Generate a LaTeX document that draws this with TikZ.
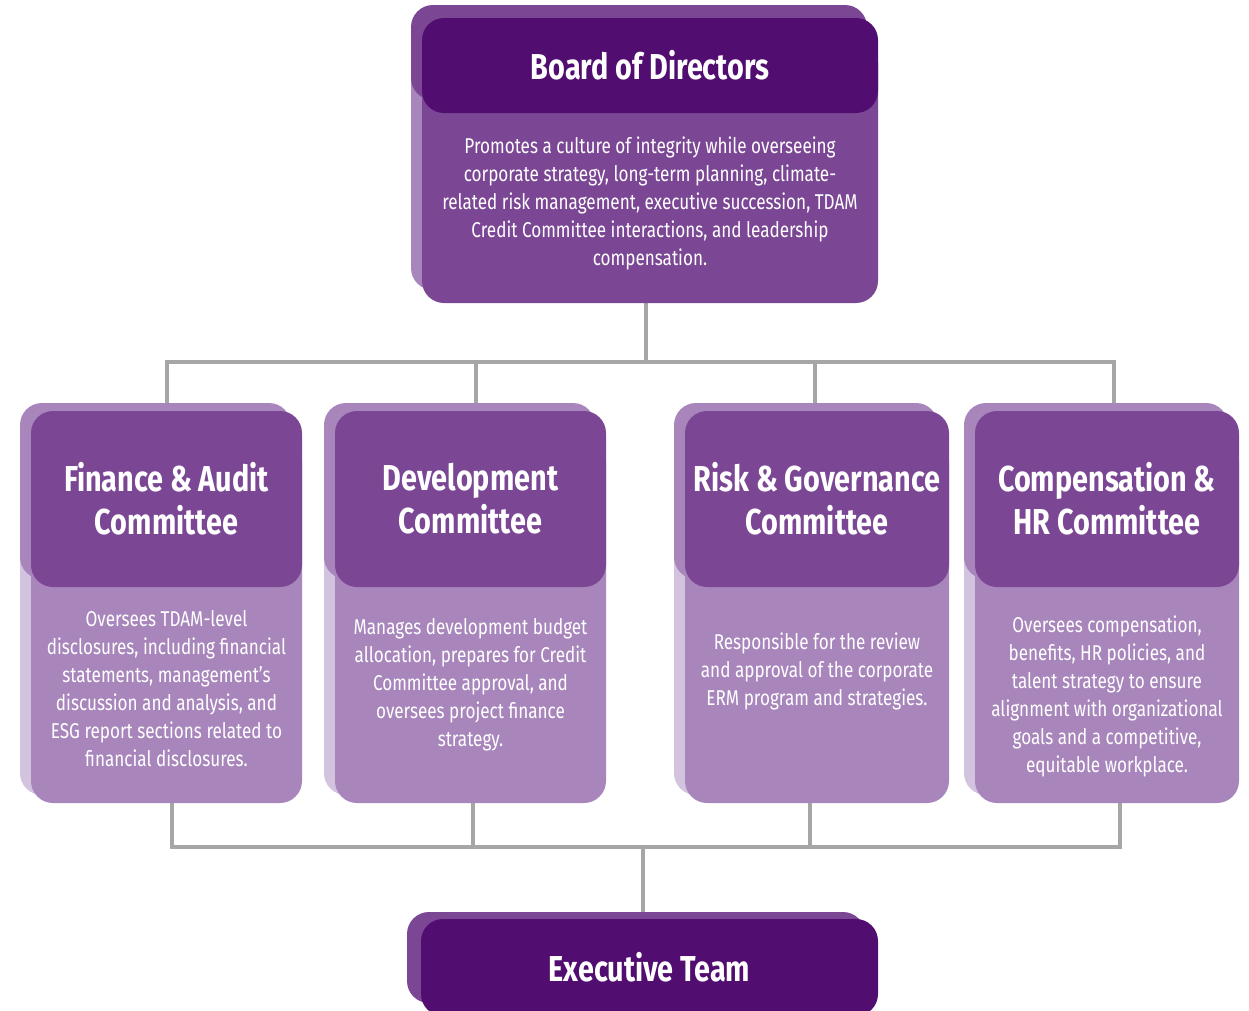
\documentclass[tikz,border=0pt]{standalone}
\usepackage{fontspec}
\setmainfont{Fira Sans}[FakeStretch=0.8]
\usetikzlibrary{backgrounds}

\definecolor{plumDark}{HTML}{510E70}
\definecolor{plumMid}{HTML}{7B4795}
\definecolor{plumLight}{HTML}{A886BC}
\definecolor{plumPale}{HTML}{D3C3DF}
\definecolor{linkgray}{HTML}{A6A6A6}

\tikzset{
  card/.style={rectangle, rounded corners=22pt, inner sep=0pt},
  title/.style={card, text=white, align=center,
                font=\fontsize{36}{43}\selectfont\bfseries},
  blurb/.style={text=white, align=center, inner sep=0pt,
                font=\fontsize{21.4}{28}\selectfont},
  link/.style={draw=linkgray, line width=4pt},
}

\begin{document}
\begin{tikzpicture}[x=1pt, y=-1pt]
  \useasboundingbox (0,0) rectangle (1249,1010);

  % board: shifted back layer, then body and header
  \node[card, fill=plumLight, minimum width=456, minimum height=263] (board-bb) at (639,158.5) {};
  \node[card, fill=plumMid, minimum width=456, minimum height=95] (board-bh) at (639,52.5) {};
  \node[card, fill=plumMid, minimum width=456, minimum height=263] (board-b) at (650,171.5) {};
  \node[title, fill=plumDark, minimum width=456, minimum height=95] (board-h) at (650,65.5) {Board of Directors};
  \node[blurb] (board-t) at (650,203) {Promotes a culture of integrity while overseeing\\
    corporate strategy, long-term planning, climate-\\
    related risk management, executive succession, TDAM\\
    Credit Committee interactions, and leadership\\
    compensation.};

  % committees
  \foreach \id/\cx/\w/\ty/\up/\dn/\ttl/\txt in {
    fin/166.5/271/689/0/5/{Finance \& Audit\\Committee}/{Oversees TDAM-level\\disclosures, including financial\\statements, management’s\\discussion and analysis, and\\ESG report sections related to\\financial disclosures.},
    dev/470.5/271/685/5/2/{Development\\Committee}/{Manages development budget\\allocation, prepares for Credit\\Committee approval, and\\oversees project finance\\strategy.},
    risk/817/264/671/-2/-7/{Risk \& Governance\\Committee}/{Responsible for the review\\and approval of the corporate\\ERM program and strategies.},
    comp/1107/264/696/7/13/{Compensation \&\\HR Committee}/{Oversees compensation,\\benefits, HR policies, and\\talent strategy to ensure\\alignment with organizational\\goals and a competitive,\\equitable workplace.}}
  {
    \node[card, fill=plumPale, minimum width=\w, minimum height=363] (\id-bb) at (\cx-11,613.5) {};
    \node[card, fill=plumLight, minimum width=\w, minimum height=176] (\id-bh) at (\cx-11,491) {};
    \node[card, fill=plumLight, minimum width=\w, minimum height=363] (\id-b) at (\cx,621.5) {};
    \node[title, fill=plumMid, minimum width=\w, minimum height=176] (\id-h) at (\cx,499) {\ttl};
    \node[blurb] (\id-t) at (\cx,\ty) {\txt};
    \coordinate (\id-in) at ([xshift=\up pt]\id-h.north);
    \coordinate (\id-out) at ([xshift=\dn pt]\id-b.south);
  }

  % executive team
  \node[card, fill=plumMid, minimum width=458, minimum height=91] (exec-bh) at (636,957.5) {};
  \node[title, fill=plumDark, minimum width=457, minimum height=97] (exec-h) at (649.5,967.5) {Executive Team};

  % connectors behind the cards
  \coordinate (bus-up) at (0,362);
  \coordinate (bus-dn) at (0,847);
  \begin{scope}[on background layer]
    \draw[link] ([xshift=-4pt]board-b.south) -- ([xshift=-4pt]board-b.south |- bus-up);
    \draw[link] (fin-in) -- (fin-in |- bus-up) -- (comp-in |- bus-up) -- (comp-in);
    \draw[link] (dev-in) -- (dev-in |- bus-up);
    \draw[link] (risk-in) -- (risk-in |- bus-up);
    \draw[link] (fin-out) -- (fin-out |- bus-dn) -- (comp-out |- bus-dn) -- (comp-out);
    \draw[link] (dev-out) -- (dev-out |- bus-dn);
    \draw[link] (risk-out) -- (risk-out |- bus-dn);
    \draw[link] ([xshift=-6.5pt]exec-h.north) -- ([xshift=-6.5pt]exec-h.north |- bus-dn);
  \end{scope}
\end{tikzpicture}
\end{document}
